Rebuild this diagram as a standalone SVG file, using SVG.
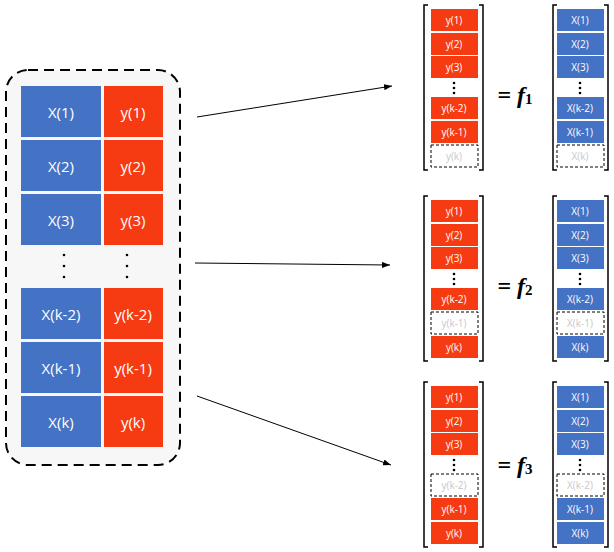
<svg xmlns="http://www.w3.org/2000/svg" width="614" height="552" viewBox="0 0 614 552">
<defs>
<style>
text{font-family:"Segoe UI","Open Sans","Liberation Sans",sans-serif;text-anchor:middle;dominant-baseline:central}
.b{fill:#4472c4}.r{fill:#f63b13}
.t{fill:#fff;font-size:15px}
.s{fill:#fff;font-size:10px}
.g{fill:#c8c8c8;font-size:10px}
.d{fill:none;stroke:#000;stroke-dasharray:3,2;stroke-width:1}
.br{fill:none;stroke:#000;stroke-width:1.5}
.eq{font-family:"Liberation Serif",serif;font-size:24px;font-weight:bold;fill:#000}
</style>
<marker id="a" markerWidth="8" markerHeight="6" refX="8" refY="3" orient="auto"><path d="M0,0L8,3L0,6z" fill="#000"/></marker>
<g id="mcol">
<path class="br" d="M428,5h-4v165h4M479,5h4v165h-4"/>
</g>
</defs>
<g id="data">
<rect x="6" y="70" width="174" height="395" rx="22" fill="#f7f7f7" stroke="#000" stroke-width="2" stroke-dasharray="10,6"/>
<rect class="b" x="21" y="86" width="80" height="51"/><rect class="r" x="104" y="86" width="59" height="51"/>
<rect class="b" x="21" y="140" width="80" height="51"/><rect class="r" x="104" y="140" width="59" height="51"/>
<rect class="b" x="21" y="194" width="80" height="51"/><rect class="r" x="104" y="194" width="59" height="51"/>
<rect class="b" x="21" y="288" width="80" height="51"/><rect class="r" x="104" y="288" width="59" height="51"/>
<rect class="b" x="21" y="342" width="80" height="51"/><rect class="r" x="104" y="342" width="59" height="51"/>
<rect class="b" x="21" y="396" width="80" height="51"/><rect class="r" x="104" y="396" width="59" height="51"/>
<g class="t">
<text x="61" y="112">X(1)</text><text x="133" y="112">y(1)</text>
<text x="61" y="166">X(2)</text><text x="133" y="166">y(2)</text>
<text x="61" y="220">X(3)</text><text x="133" y="220">y(3)</text>
<text x="61" y="314">X(k-2)</text><text x="133" y="314">y(k-2)</text>
<text x="61" y="368">X(k-1)</text><text x="133" y="368">y(k-1)</text>
<text x="61" y="422">X(k)</text><text x="133" y="422">y(k)</text>
</g>
<g fill="#000"><circle cx="64" cy="255" r="1.3"/><circle cx="64" cy="266" r="1.3"/><circle cx="64" cy="277" r="1.3"/>
<circle cx="127" cy="255" r="1.3"/><circle cx="127" cy="266" r="1.3"/><circle cx="127" cy="277" r="1.3"/></g>
</g>
<g id="connectors" stroke="#000" stroke-width="1" marker-end="url(#a)">
<line x1="197" y1="117" x2="392" y2="86"/>
<line x1="195" y1="263" x2="390" y2="265"/>
<line x1="197" y1="396" x2="391" y2="465"/>
</g>
<g id="eq1">
<path class="br" d="M428,5h-4v165h4M479,5h4v165h-4M557,5h-4v165h4M604,5h4v165h-4"/>
<rect class="r" x="431" y="9" width="47" height="22"/><rect class="r" x="431" y="33" width="47" height="22"/><rect class="r" x="431" y="56" width="47" height="22"/>
<rect class="r" x="431" y="97" width="47" height="22"/><rect class="r" x="431" y="121" width="47" height="22"/><rect class="d" x="431" y="145" width="47" height="22"/>
<rect class="b" x="557" y="9" width="47" height="22"/><rect class="b" x="557" y="33" width="47" height="22"/><rect class="b" x="557" y="56" width="47" height="22"/>
<rect class="b" x="557" y="97" width="47" height="22"/><rect class="b" x="557" y="121" width="47" height="22"/><rect class="d" x="557" y="145" width="47" height="22"/>
<text class="s" x="454" y="20">y(1)</text><text class="s" x="454" y="44">y(2)</text><text class="s" x="454" y="67">y(3)</text><text class="s" x="454" y="108">y(k-2)</text><text class="s" x="454" y="132">y(k-1)</text><text class="g" x="454" y="156">y(k)</text>
<text class="s" x="580" y="20">X(1)</text><text class="s" x="580" y="44">X(2)</text><text class="s" x="580" y="67">X(3)</text><text class="s" x="580" y="108">X(k-2)</text><text class="s" x="580" y="132">X(k-1)</text><text class="g" x="580" y="156">X(k)</text>
<g fill="#000"><circle cx="454" cy="83" r="1.3"/><circle cx="454" cy="88" r="1.3"/><circle cx="454" cy="93" r="1.3"/><circle cx="580" cy="83" r="1.3"/><circle cx="580" cy="88" r="1.3"/><circle cx="580" cy="93" r="1.3"/></g>
<text class="eq" x="515" y="95" style="text-anchor:middle">= <tspan font-style="italic">f</tspan><tspan font-size="15" dy="4">1</tspan></text>
</g>
<g id="eq2" transform="translate(0,191)">
<path class="br" d="M428,5h-4v165h4M479,5h4v165h-4M557,5h-4v165h4M604,5h4v165h-4"/>
<rect class="r" x="431" y="9" width="47" height="22"/><rect class="r" x="431" y="33" width="47" height="22"/><rect class="r" x="431" y="56" width="47" height="22"/>
<rect class="r" x="431" y="97" width="47" height="22"/><rect class="d" x="431" y="121" width="47" height="22"/><rect class="r" x="431" y="145" width="47" height="22"/>
<rect class="b" x="557" y="9" width="47" height="22"/><rect class="b" x="557" y="33" width="47" height="22"/><rect class="b" x="557" y="56" width="47" height="22"/>
<rect class="b" x="557" y="97" width="47" height="22"/><rect class="d" x="557" y="121" width="47" height="22"/><rect class="b" x="557" y="145" width="47" height="22"/>
<text class="s" x="454" y="20">y(1)</text><text class="s" x="454" y="44">y(2)</text><text class="s" x="454" y="67">y(3)</text><text class="s" x="454" y="108">y(k-2)</text><text class="g" x="454" y="132">y(k-1)</text><text class="s" x="454" y="156">y(k)</text>
<text class="s" x="580" y="20">X(1)</text><text class="s" x="580" y="44">X(2)</text><text class="s" x="580" y="67">X(3)</text><text class="s" x="580" y="108">X(k-2)</text><text class="g" x="580" y="132">X(k-1)</text><text class="s" x="580" y="156">X(k)</text>
<g fill="#000"><circle cx="454" cy="83" r="1.3"/><circle cx="454" cy="88" r="1.3"/><circle cx="454" cy="93" r="1.3"/><circle cx="580" cy="83" r="1.3"/><circle cx="580" cy="88" r="1.3"/><circle cx="580" cy="93" r="1.3"/></g>
<text class="eq" x="515" y="95">= <tspan font-style="italic">f</tspan><tspan font-size="15" dy="4">2</tspan></text>
</g>
<g id="eq3" transform="translate(0,377)">
<path class="br" d="M428,5h-4v165h4M479,5h4v165h-4M557,5h-4v165h4M604,5h4v165h-4"/>
<rect class="r" x="431" y="9" width="47" height="22"/><rect class="r" x="431" y="33" width="47" height="22"/><rect class="r" x="431" y="56" width="47" height="22"/>
<rect class="d" x="431" y="97" width="47" height="22"/><rect class="r" x="431" y="121" width="47" height="22"/><rect class="r" x="431" y="145" width="47" height="22"/>
<rect class="b" x="557" y="9" width="47" height="22"/><rect class="b" x="557" y="33" width="47" height="22"/><rect class="b" x="557" y="56" width="47" height="22"/>
<rect class="d" x="557" y="97" width="47" height="22"/><rect class="b" x="557" y="121" width="47" height="22"/><rect class="b" x="557" y="145" width="47" height="22"/>
<text class="s" x="454" y="20">y(1)</text><text class="s" x="454" y="44">y(2)</text><text class="s" x="454" y="67">y(3)</text><text class="g" x="454" y="108">y(k-2)</text><text class="s" x="454" y="132">y(k-1)</text><text class="s" x="454" y="156">y(k)</text>
<text class="s" x="580" y="20">X(1)</text><text class="s" x="580" y="44">X(2)</text><text class="s" x="580" y="67">X(3)</text><text class="g" x="580" y="108">X(k-2)</text><text class="s" x="580" y="132">X(k-1)</text><text class="s" x="580" y="156">X(k)</text>
<g fill="#000"><circle cx="454" cy="83" r="1.3"/><circle cx="454" cy="88" r="1.3"/><circle cx="454" cy="93" r="1.3"/><circle cx="580" cy="83" r="1.3"/><circle cx="580" cy="88" r="1.3"/><circle cx="580" cy="93" r="1.3"/></g>
<text class="eq" x="515" y="88">= <tspan font-style="italic">f</tspan><tspan font-size="15" dy="4">3</tspan></text>
</g>
</svg>
